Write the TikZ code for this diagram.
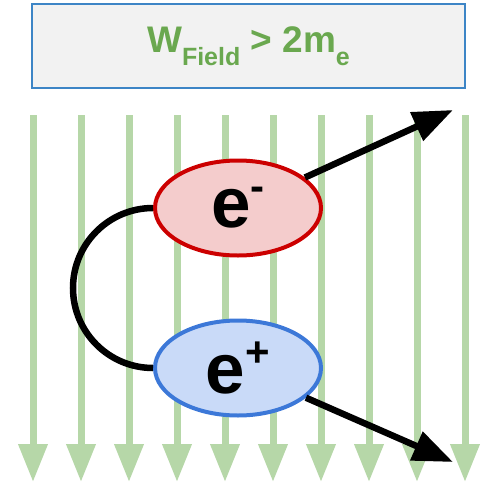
\documentclass[tikz,border=0pt]{standalone}
\usepackage{fontspec}
\setmainfont{Liberation Sans}
\usetikzlibrary{arrows.meta,shapes.geometric}
\definecolor{fieldgreen}{HTML}{B6D7A8}
\definecolor{titlegreen}{HTML}{6AA84F}
\definecolor{boxblue}{HTML}{3D85C6}
\definecolor{boxfill}{HTML}{F2F2F2}
\definecolor{redfill}{HTML}{F4CCCC}
\definecolor{redline}{HTML}{CC0000}
\definecolor{bluefill}{HTML}{C9DAF8}
\definecolor{blueline}{HTML}{3C78D8}
\tikzset{
  fieldline/.style={draw=fieldgreen,line width=7pt,-{Triangle[length=38pt,width=28pt]}},
  particle/.style={ellipse,minimum width=166pt,minimum height=95pt,inner sep=0pt,line width=4pt,font=\fontsize{71}{71}\selectfont\bfseries},
  traj/.style={draw=black,line width=6.5pt,-{Triangle[length=40pt,width=30pt]}},
  pairarc/.style={draw=black,line width=6.5pt},
  titlebox/.style={draw=boxblue,fill=boxfill,line width=1.8pt,minimum width=433pt,minimum height=84pt,inner sep=0pt,text=titlegreen,font=\fontsize{37}{37}\selectfont\bfseries}
}
\newcommand{\subtxt}[1]{\raisebox{-13pt}{\fontsize{25}{25}\selectfont #1}}
\newcommand{\suptxt}[1]{\raisebox{27pt}{\fontsize{42}{42}\selectfont #1}}
\begin{document}
\begin{tikzpicture}[x=1pt,y=-1pt]
\useasboundingbox (0,0) rectangle (481,483);
\node[titlebox] (title) at (248.5,46) {W\subtxt{Field} > 2m\subtxt{e}};
\foreach \i in {0,...,9} {
  \coordinate (s\i) at (33+48*\i,115);
  \coordinate (t\i) at (33+48*\i,482);
  \draw[fieldline] (s\i) -- (t\i);
}
\node[particle,draw=redline,fill=redfill] (em) at (238,208) {e\suptxt{-}};
\node[particle,draw=blueline,fill=bluefill] (ep) at (238,368) {e\suptxt{+}};
\coordinate (tipA) at (453,110);
\coordinate (tipB) at (453,462);
\draw[traj] (em) -- (tipA);
\draw[traj] (ep) -- (tipB);
\draw[pairarc] (em.west) arc[start angle=90,end angle=270,radius=80pt];
\end{tikzpicture}
\end{document}
